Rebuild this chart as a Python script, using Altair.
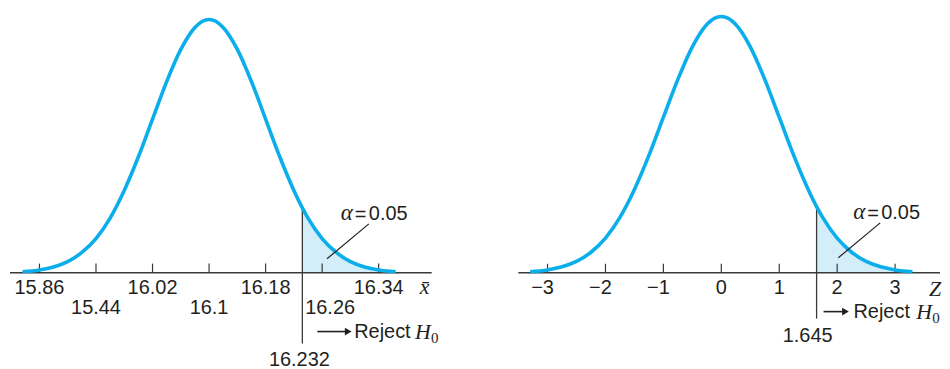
import altair as alt
import pandas as pd

# ---- data ----
# standardized position along the curve and its relative height (peak = 1)
curve_z = [-3.3, -3.0, -2.75, -2.5, -2.25, -2.0, -1.75, -1.5, -1.25, -1.0, -0.75, -0.5, -0.25, 0.0,
           0.25, 0.5, 0.75, 1.0, 1.25, 1.5, 1.645, 1.75, 2.0, 2.25, 2.5, 2.75, 3.0, 3.3]
curve_h = [0.004, 0.011, 0.023, 0.044, 0.080, 0.135, 0.216, 0.325, 0.458, 0.607, 0.755, 0.882, 0.969, 1.0,
           0.969, 0.882, 0.755, 0.607, 0.458, 0.325, 0.258, 0.216, 0.135, 0.080, 0.044, 0.023, 0.011, 0.004]

xbar_mean = 16.1
xbar_sd = 0.08
xbar_ticks = [15.86, 15.94, 16.02, 16.1, 16.18, 16.26, 16.34]
xbar_labels = ["15.86", "15.44", "16.02", "16.1", "16.18", "16.26", "16.34"]
xbar_rows = [0, 1, 0, 1, 0, 1, 0]
xbar_crit = 16.232
xbar_crit_label = "16.232"

z_ticks = [-3, -2, -1, 0, 1, 2, 3]
z_labels = ["\u22123", "\u22122", "\u22121", "0", "1", "2", "3"]
z_crit = 1.645
z_crit_label = "1.645"
z_crit_z = 1.645

alpha_value = "0.05"

# ---- styles ----
CURVE = "#0AAEEB"
FILL = "#D3EDF9"
INK = "#231F20"
LINE = "#3A3A3A"
SANS = "Liberation Sans"
SERIF = "Liberation Serif"
FS = 20
H = 353


def panel(xs, width, xdom, ydom, crit, crit_h, crit_bottom, axis_ends, ticks, labels, rows,
          row_dy, label_dx, tick_len, arrow_y, arrow_pts, reject_dx, h_dx, sub_dx,
          crit_label, crit_label_dx, crit_label_dy, var_label_x, var_label, var_dy, alpha_xy, leader):
    xs_ = alt.Scale(domain=xdom, nice=False, zero=False)
    ys_ = alt.Scale(domain=ydom, nice=False, zero=False)

    def X(field=None, datum=None):
        if field is not None:
            return alt.X(field, type="quantitative", scale=xs_, axis=None)
        return alt.X(datum=datum, type="quantitative", scale=xs_, axis=None)

    def Y(field=None, datum=None):
        if field is not None:
            return alt.Y(field, type="quantitative", scale=ys_, axis=None)
        return alt.Y(datum=datum, type="quantitative", scale=ys_, axis=None)

    curve = pd.DataFrame({"x": xs, "h": curve_h, "z": curve_z})
    tail = curve[curve["z"] >= z_crit_z]

    area = alt.Chart(tail).mark_area(color=FILL, interpolate="monotone").encode(
        x=X("x"), y=Y("h"), y2=alt.Y2(datum=0))

    axis_df = pd.DataFrame({"x0": [axis_ends[0]], "x1": [axis_ends[1]]})
    axis_line = alt.Chart(axis_df).mark_rule(color=LINE, strokeWidth=1.3).encode(
        x=X("x0"), x2="x1", y=Y(datum=0))

    tick_df = pd.DataFrame({"t": ticks, "lab": labels, "row": rows})
    tick_marks = alt.Chart(tick_df).mark_rule(color=LINE, strokeWidth=1.2).encode(
        x=X("t"), y=Y(datum=0), y2=alt.Y2(datum=tick_len))

    crit_df = pd.DataFrame({"c": [crit], "top": [crit_h], "bot": [crit_bottom]})
    crit_line = alt.Chart(crit_df).mark_rule(color=LINE, strokeWidth=1.3).encode(
        x=X("c"), y=Y("top"), y2="bot")

    line = alt.Chart(curve).mark_line(color=CURVE, strokeWidth=3.6, interpolate="monotone").encode(
        x=X("x"), y=Y("h"))

    layers = [area, axis_line, tick_marks, crit_line, line]

    # tick labels
    for r, dy in enumerate(row_dy):
        for shifted in (False, True):
            sub = tick_df[(tick_df["row"] == r)]
            sub = sub[sub["t"].isin(label_dx.keys()) == shifted]
            if len(sub) == 0:
                continue
            dx = 0
            if shifted:
                dx = list(label_dx.values())[0]
            layers.append(alt.Chart(sub).mark_text(
                font=SANS, fontSize=FS, color=INK, baseline="middle", align="center", dy=dy, dx=dx
            ).encode(x=X("t"), y=Y(datum=0), text="lab:N"))

    # variable name at end of axis
    var_df = pd.DataFrame({"x": [var_label_x], "t": [var_label]})
    layers.append(alt.Chart(var_df).mark_text(
        font=SERIF, fontStyle="italic", fontSize=22, color=INK, baseline="middle", align="center",
        dy=var_dy).encode(x=X("x"), y=Y(datum=0), text="t:N"))

    # critical value label
    cl_df = pd.DataFrame({"c": [crit], "t": [crit_label]})
    layers.append(alt.Chart(cl_df).mark_text(
        font=SANS, fontSize=FS, color=INK, baseline="middle", align="center",
        dx=crit_label_dx, dy=crit_label_dy).encode(x=X("c"), y=Y(datum=0), text="t:N"))

    # arrow
    ar_df = pd.DataFrame({"x0": [arrow_pts[0]], "x1": [arrow_pts[1]], "y": [arrow_y]})
    layers.append(alt.Chart(ar_df).mark_rule(color=INK, strokeWidth=1.6).encode(
        x=X("x0"), x2="x1", y=Y("y")))
    ah_df = pd.DataFrame({"x": [arrow_pts[2]], "y": [arrow_y]})
    layers.append(alt.Chart(ah_df).mark_point(
        shape="triangle-right", filled=True, color=INK, size=60, opacity=1).encode(
        x=X("x"), y=Y("y")))

    # Reject H0
    rj_df = pd.DataFrame({"c": [crit], "y": [arrow_y], "a": ["Reject"], "h": ["H"], "s": ["0"]})
    layers.append(alt.Chart(rj_df).mark_text(
        font=SANS, fontSize=FS, color=INK, baseline="middle", align="left", dx=reject_dx).encode(
        x=X("c"), y=Y("y"), text="a:N"))
    layers.append(alt.Chart(rj_df).mark_text(
        font=SERIF, fontStyle="italic", fontSize=22, color=INK, baseline="middle", align="left",
        dx=h_dx).encode(x=X("c"), y=Y("y"), text="h:N"))
    layers.append(alt.Chart(rj_df).mark_text(
        font=SERIF, fontSize=15, color=INK, baseline="middle", align="left",
        dx=sub_dx, dy=6).encode(x=X("c"), y=Y("y"), text="s:N"))

    # alpha label and leader
    al_df = pd.DataFrame({"x": [alpha_xy[0]], "y": [alpha_xy[1]], "g": ["\u03b1"], "e": ["="],
                          "v": [alpha_value]})
    layers.append(alt.Chart(al_df).mark_text(
        font=SERIF, fontStyle="italic", fontSize=23, color=INK, baseline="middle", align="right",
        dx=-1, dy=-1).encode(x=X("x"), y=Y("y"), text="g:N"))
    layers.append(alt.Chart(al_df).mark_text(
        font=SANS, fontSize=FS, color=INK, baseline="middle", align="left", dx=1, dy=1).encode(
        x=X("x"), y=Y("y"), text="e:N"))
    layers.append(alt.Chart(al_df).mark_text(
        font=SANS, fontSize=FS, color=INK, baseline="middle", align="left", dx=15).encode(
        x=X("x"), y=Y("y"), text="v:N"))
    ld_df = pd.DataFrame({"x0": [leader[0]], "y0": [leader[1]], "x1": [leader[2]], "y1": [leader[3]]})
    layers.append(alt.Chart(ld_df).mark_rule(color=INK, strokeWidth=1.2).encode(
        x=X("x0"), y=Y("y0"), x2="x1", y2="y1"))

    return alt.layer(*layers).properties(width=width, height=H)


left_x = [xbar_mean + xbar_sd * z for z in curve_z]
left = panel(
    xs=left_x, width=440, xdom=[15.8155, 16.4361], ydom=[-0.35039, 1.03937],
    crit=xbar_crit, crit_h=0.258, crit_bottom=-0.2795, axis_ends=[15.8183, 16.4150],
    ticks=xbar_ticks, labels=xbar_labels, rows=xbar_rows, row_dy=[15, 35],
    label_dx={16.26: 8}, tick_len=0.036, arrow_y=-0.2323,
    arrow_pts=[xbar_crit + 0.0212, xbar_crit + 0.0621, xbar_crit + 0.0649],
    reject_dx=52, h_dx=113, sub_dx=129,
    crit_label=xbar_crit_label, crit_label_dx=-3, crit_label_dy=88,
    var_label_x=16.4051, var_label="x\u0304", var_dy=14,
    alpha_xy=[16.3049, 0.2323], leader=[16.3261, 0.1929, 16.2669, 0.0551])

right = panel(
    xs=curve_z, width=432, xdom=[-3.6758, 3.7584], ydom=[-0.3463, 1.02724],
    crit=z_crit, crit_h=0.258, crit_bottom=-0.179, axis_ends=[-3.504, 3.775],
    ticks=z_ticks, labels=z_labels, rows=[0] * 7, row_dy=[15],
    label_dx={-3: -5, -2: -5, -1: -5}, tick_len=0.035, arrow_y=-0.1518,
    arrow_pts=[z_crit + 0.1205, z_crit + 0.4818, z_crit + 0.499],
    reject_dx=37, h_dx=100, sub_dx=116,
    crit_label=z_crit_label, crit_label_dx=-9, crit_label_dy=63,
    var_label_x=3.6896, var_label="Z", var_dy=16,
    alpha_xy=[2.502, 0.2335], leader=[2.743, 0.1946, 2.020, 0.0584])

chart = alt.hconcat(left, right, spacing=62, bounds="flush", padding=0,
                    background="white").configure_view(stroke="transparent", strokeWidth=0)

chart.save("out.html", embed_options={"renderer": "svg", "actions": False})
